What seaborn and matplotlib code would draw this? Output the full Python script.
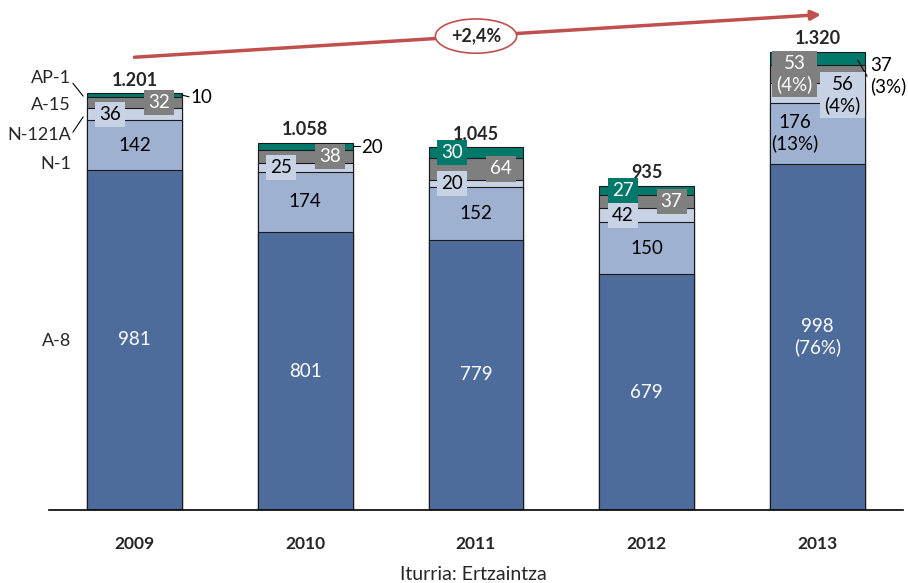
import numpy as np
import pandas as pd
import seaborn as sns
import matplotlib.pyplot as plt

years = ['2009', '2010', '2011', '2012', '2013']
roads = ['A-8', 'N-1', 'N-121A', 'A-15', 'AP-1']
a8 = [981, 801, 779, 679, 998]
n1 = [142, 174, 152, 150, 176]
n121a = [36, 25, 20, 42, 56]
a15 = [32, 38, 64, 37, 53]
ap1 = [10, 20, 30, 27, 37]
growth = '+2,4%'
source = 'Iturria: Ertzaintza'

colors = {'A-8': '#4D6C9C', 'N-1': '#9FB1D0', 'N-121A': '#C8D2E5',
          'A-15': '#7F7F7F', 'AP-1': '#00796B'}

sns.set_style('white')
plt.rcParams['font.family'] = ['Lato', 'DejaVu Sans']

layers = [a8, n1, n121a, a15, ap1]
cum = np.cumsum(np.array(layers), axis=0)
totals = cum[-1]

df = pd.DataFrame({'year': np.tile(years, len(roads)),
                   'road': np.repeat(roads, len(years)),
                   'value': np.array(layers).ravel(),
                   'cum': cum.ravel()})

fig = plt.figure(figsize=(9.08, 5.83), dpi=100)
ax = fig.add_axes([49 / 908, 73 / 583, 854 / 908, 510 / 583])

W = 0.556
# draw the stack from the top layer down so each one covers the part below
for road in roads[::-1]:
    sub = df[df.road == road]
    sns.barplot(data=sub, x='year', y='cum', order=years, color=colors[road],
                saturation=1, width=W, edgecolor='#1a1a1a', linewidth=0.8,
                errorbar=None, ax=ax)

ax.set_xlim(-0.5, 4.5)
ax.set_ylim(0, 1470)
ax.set_xlabel('')
ax.set_ylabel('')
ax.set_yticks([])
for s in ['top', 'right', 'left']:
    ax.spines[s].set_visible(False)
ax.spines['bottom'].set_color('black')
ax.spines['bottom'].set_linewidth(1.2)
ax.tick_params(axis='x', length=0, pad=19, labelsize=12.5)
for t in ax.get_xticklabels():
    t.set_fontweight('bold')

FS = 13.5
def seg_label(i, y, text, dx=0.0, color='black', box=None, ha='center'):
    kw = {}
    if box:
        kw['bbox'] = dict(boxstyle='square,pad=0.22', fc=box, ec='none')
    ax.text(i + dx, y, text, ha=ha, va='center', color=color, fontsize=FS,
            linespacing=1.2, **kw)

pct = [round(100 * layer[4] / totals[4]) for layer in layers]
mid = cum - np.array(layers) / 2

for i in range(5):
    ax.text(i, totals[i] + 38, f'{totals[i]:,}'.replace(',', '.'), ha='center',
            va='center', fontsize=13, fontweight='bold')
    if i < 4:
        seg_label(i, mid[0][i], str(a8[i]), color='white')
        seg_label(i, mid[1][i], str(n1[i]))
        seg_label(i, mid[2][i], str(n121a[i]), dx=-0.14, box=colors['N-121A'])
        seg_label(i, mid[3][i], str(a15[i]), dx=0.145, color='white', box=colors['A-15'])
    if i in (2, 3):
        seg_label(i, mid[4][i], str(ap1[i]), dx=-0.14, color='white', box=colors['AP-1'])

# outside labels for the thin AP-1 segments
for i, y in [(0, 1188), (1, 1045)]:
    ax.plot([i + W / 2, i + 0.32], [mid[4][i], y + 3], color='black', lw=0.8)
    seg_label(i, y, str(ap1[i]), dx=0.33, ha='left')

# 2013 with shares
seg_label(4, mid[0][4], f'{a8[4]}\n({pct[0]}%)', color='white')
seg_label(4, mid[1][4], f'{n1[4]}\n({pct[1]}%)', dx=-0.135)
seg_label(4, mid[2][4] - 6, f'{n121a[4]}\n({pct[2]}%)', dx=0.146, box=colors['N-121A'])
seg_label(4, mid[3][4], f'{a15[4]}\n({pct[3]}%)', dx=-0.135, color='white', box=colors['A-15'])
ax.plot([4.235, 4.29], [1297, 1250], color='black', lw=0.8)
seg_label(4, 1250, f'{ap1[4]}\n({pct[4]}%)', dx=0.31, ha='left')

# road names on the left
for name, y in [('AP-1', 1245), ('A-15', 1167), ('N-121A', 1081), ('N-1', 997), ('A-8', 487)]:
    ax.text(-0.372, y, name, ha='right', va='center', fontsize=13)
ax.plot([-0.36, -0.30], [1230, 1193], color='black', lw=0.8)
ax.plot([-0.36, -0.30], [1089, 1133], color='black', lw=0.8)

# growth arrow
ax.annotate('', xy=(4.02, 1428), xytext=(0.0, 1305), annotation_clip=False,
            arrowprops=dict(arrowstyle='-|>', color='#C0504D', lw=2.5,
                            mutation_scale=14, shrinkA=0, shrinkB=0))
ax.text(2.0, 1366, growth, ha='center', va='center', fontsize=13, fontweight='bold',
        bbox=dict(boxstyle='ellipse,pad=0.2', fc='white', ec='#C0504D', lw=1.2))

fig.text(473 / 908, 1 - 574 / 583, source, ha='center', va='center', fontsize=14)

fig.savefig('out.png', dpi=100)
